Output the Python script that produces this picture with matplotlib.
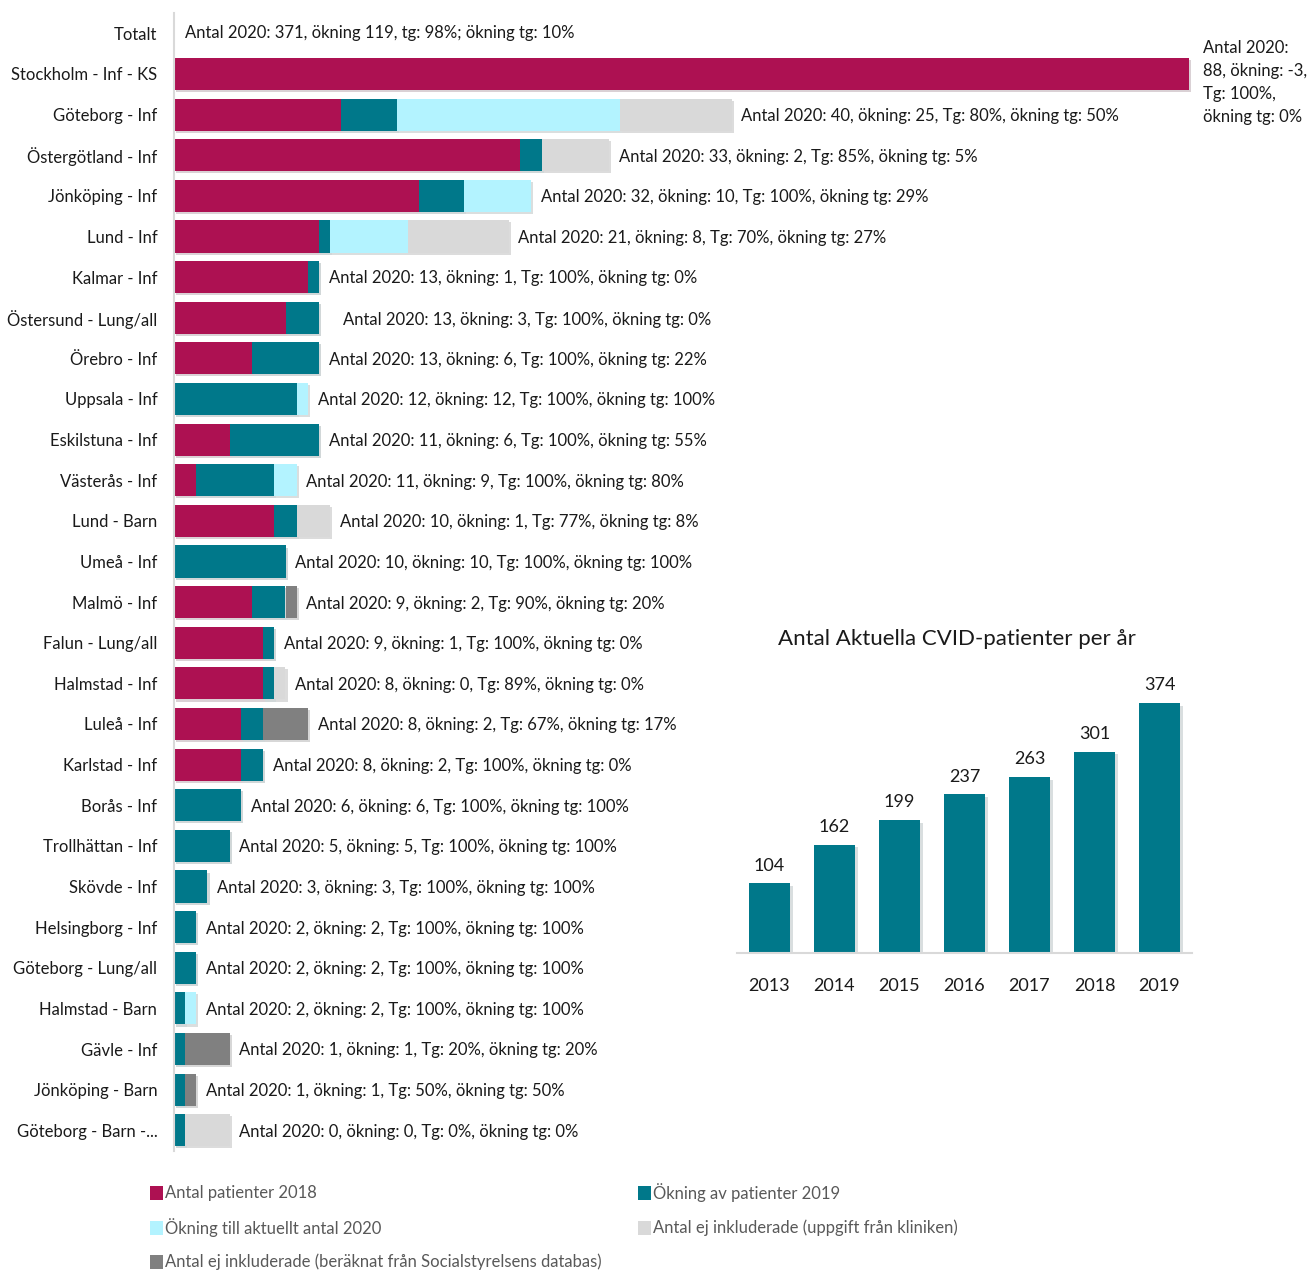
import matplotlib.pyplot as plt
import matplotlib.patheffects as pe
from matplotlib.patches import Rectangle

plt.rcParams["font.family"] = ["Lato", "DejaVu Sans"]

# --- DADOS ---
kategorier = [
    "Totalt", "Stockholm - Inf - KS", "Göteborg - Inf", "Östergötland - Inf",
    "Jönköping - Inf", "Lund - Inf", "Kalmar - Inf", "Östersund - Lung/all",
    "Örebro - Inf", "Uppsala - Inf", "Eskilstuna - Inf", "Västerås - Inf",
    "Lund - Barn", "Umeå - Inf", "Malmö - Inf", "Falun - Lung/all",
    "Halmstad - Inf", "Luleå - Inf", "Karlstad - Inf", "Borås - Inf",
    "Trollhättan - Inf", "Skövde - Inf", "Helsingborg - Inf",
    "Göteborg - Lung/all", "Halmstad - Barn", "Gävle - Inf",
    "Jönköping - Barn", "Göteborg - Barn -...",
]

# Totalt-raden saknar stapel (0 överallt)
patienter_2018 = [0, 91, 15, 31, 22, 13, 12, 10, 7, 0, 5, 2, 9, 0, 7, 8, 8, 6, 6,
                  0, 0, 0, 0, 0, 0, 0, 0, 0]
okning_2019 = [0, 0, 5, 2, 4, 1, 1, 3, 6, 11, 8, 7, 2, 10, 3, 1, 1, 2, 2,
               6, 5, 3, 2, 2, 1, 1, 1, 1]
okning_2020 = [0, 0, 20, 0, 6, 7, 0, 0, 0, 1, 0, 2, 0, 0, 0, 0, 0, 0, 0,
               0, 0, 0, 0, 0, 1, 0, 0, 0]
ej_inkl_klinik = [0, 0, 10, 6, 0, 9, 0, 0, 0, 0, 0, 0, 3, 0, 0, 0, 1, 0, 0,
                  0, 0, 0, 0, 0, 0, 0, 0, 4]
ej_inkl_socst = [0, 0, 0, 0, 0, 0, 0, 0, 0, 0, 0, 0, 0, 0, 1, 0, 0, 4, 0,
                 0, 0, 0, 0, 0, 0, 4, 1, 0]

etiketter = [
    "Antal 2020: 371, ökning 119, tg: 98%; ökning tg: 10%",
    "Antal 2020:\n88, ökning: -3,\nTg: 100%,\nökning tg: 0%",
    "Antal 2020: 40, ökning: 25, Tg: 80%, ökning tg: 50%",
    "Antal 2020: 33, ökning: 2, Tg: 85%, ökning tg: 5%",
    "Antal 2020: 32, ökning: 10, Tg: 100%, ökning tg: 29%",
    "Antal 2020: 21, ökning: 8, Tg: 70%, ökning tg: 27%",
    "Antal 2020: 13, ökning: 1, Tg: 100%, ökning tg: 0%",
    "Antal 2020: 13, ökning: 3, Tg: 100%, ökning tg: 0%",
    "Antal 2020: 13, ökning: 6, Tg: 100%, ökning tg: 22%",
    "Antal 2020: 12, ökning: 12, Tg: 100%, ökning tg: 100%",
    "Antal 2020: 11, ökning: 6, Tg: 100%, ökning tg: 55%",
    "Antal 2020: 11, ökning: 9, Tg: 100%, ökning tg: 80%",
    "Antal 2020: 10, ökning: 1, Tg: 77%, ökning tg: 8%",
    "Antal 2020: 10, ökning: 10, Tg: 100%, ökning tg: 100%",
    "Antal 2020: 9, ökning: 2, Tg: 90%, ökning tg: 20%",
    "Antal 2020: 9, ökning: 1, Tg: 100%, ökning tg: 0%",
    "Antal 2020: 8, ökning: 0, Tg: 89%, ökning tg: 0%",
    "Antal 2020: 8, ökning: 2, Tg: 67%, ökning tg: 17%",
    "Antal 2020: 8, ökning: 2, Tg: 100%, ökning tg: 0%",
    "Antal 2020: 6, ökning: 6, Tg: 100%, ökning tg: 100%",
    "Antal 2020: 5, ökning: 5, Tg: 100%, ökning tg: 100%",
    "Antal 2020: 3, ökning: 3, Tg: 100%, ökning tg: 100%",
    "Antal 2020: 2, ökning: 2, Tg: 100%, ökning tg: 100%",
    "Antal 2020: 2, ökning: 2, Tg: 100%, ökning tg: 100%",
    "Antal 2020: 2, ökning: 2, Tg: 100%, ökning tg: 100%",
    "Antal 2020: 1, ökning: 1, Tg: 20%, ökning tg: 20%",
    "Antal 2020: 1, ökning: 1, Tg: 50%, ökning tg: 50%",
    "Antal 2020: 0, ökning: 0, Tg: 0%, ökning tg: 0%",
]

ar = ["2013", "2014", "2015", "2016", "2017", "2018", "2019"]
cvid_patienter = [104, 162, 199, 237, 263, 301, 374]

serienamn = [
    "Antal patienter 2018",
    "Ökning av patienter 2019",
    "Ökning till aktuellt antal 2020",
    "Antal ej inkluderade (uppgift från kliniken)",
    "Antal ej inkluderade (beräknat från Socialstyrelsens databas)",
]
farger = ["#AD1152", "#00788A", "#B3F3FF", "#D9D9D9", "#808080"]

# --- FIGUR ---
W, H = 1311, 1272
fig = plt.figure(figsize=(W / 100, H / 100), dpi=100)

ax = fig.add_axes([174 / W, 1 - 1150.6 / H, (W - 174) / W, 1137.6 / H])
skugga = [pe.SimplePatchShadow(offset=(1.5, -1.5), alpha=0.18), pe.Normal()]

y = list(range(len(kategorier)))
vanster = [0] * len(kategorier)
for serie, farg in zip(
    [patienter_2018, okning_2019, okning_2020, ej_inkl_klinik, ej_inkl_socst], farger
):
    staplar = ax.barh(y, serie, left=vanster, height=0.79, color=farg, linewidth=0)
    for s in staplar:
        s.set_path_effects(skugga)
    vanster = [a + b for a, b in zip(vanster, serie)]

ax.set_xlim(0, (W - 174) / 11.15)
ax.set_ylim(len(kategorier) - 0.5, -0.5)
ax.set_yticks(y)
ax.set_yticklabels(kategorier, fontsize=12, color="#1a1a1a")
ax.tick_params(axis="y", length=0, pad=12)
ax.set_xticks([])
for side in ["top", "right", "bottom"]:
    ax.spines[side].set_visible(False)
ax.spines["left"].set_color("#D9D9D9")
ax.spines["left"].set_linewidth(1.5)

# etiketter vid staplarna
for i, (tot, txt) in enumerate(zip(vanster, etiketter)):
    if i == 0:
        ax.annotate(txt, (0, i), xytext=(8, 0), textcoords="offset points",
                    va="center", fontsize=12, color="#1a1a1a")
    elif i == 1:
        ax.annotate(txt, (tot, i), xytext=(10, -6), textcoords="offset points",
                    va="center", ha="left", fontsize=12, color="#1a1a1a",
                    linespacing=1.55)
    elif kategorier[i] == "Östersund - Lung/all":
        ax.annotate(txt, (tot, i), xytext=(17, -2), textcoords="offset points",
                    va="center", fontsize=12, color="#1a1a1a")
    else:
        ax.annotate(txt, (tot, i), xytext=(7, -1), textcoords="offset points",
                    va="center", fontsize=12, color="#1a1a1a")

# --- INFÄLLT DIAGRAM ---
ax2 = fig.add_axes([737 / W, 1 - 953 / H, 455 / W, 281 / H])
b2 = ax2.bar(range(len(ar)), cvid_patienter, width=0.63, color="#00788A")
for s in b2:
    s.set_path_effects([pe.SimplePatchShadow(offset=(2, -2), alpha=0.15), pe.Normal()])
for i, v in enumerate(cvid_patienter):
    ax2.annotate(str(v), (i, v), xytext=(0, 7), textcoords="offset points",
                 ha="center", va="bottom", fontsize=13, color="#1a1a1a")
ax2.set_xlim(-0.5, len(ar) - 0.5)
ax2.set_ylim(0, 420)
ax2.set_xticks(range(len(ar)))
ax2.set_xticklabels(ar, fontsize=13, color="#1a1a1a")
ax2.tick_params(axis="x", length=0, pad=18)
ax2.set_yticks([])
for side in ["top", "right", "left"]:
    ax2.spines[side].set_visible(False)
ax2.spines["bottom"].set_color("#D9D9D9")
ax2.spines["bottom"].set_linewidth(1.5)
fig.text(957 / W, 1 - 639 / H, "Antal Aktuella CVID-patienter per år",
         ha="center", va="center", fontsize=16, color="#1a1a1a")

# --- LEGEND ---
legend_pos = [(150, 1193), (638, 1193), (150, 1228), (638, 1228), (150, 1262)]
for (px, py), namn, farg in zip(legend_pos, serienamn, farger):
    fig.add_artist(Rectangle((px / W, 1 - (py + 7) / H), 13 / W, 14 / H,
                             transform=fig.transFigure, color=farg, linewidth=0))
    fig.text((px + 15) / W, 1 - py / H, namn, va="center", fontsize=12,
             color="#595959")

fig.savefig("out.png", dpi=100)
